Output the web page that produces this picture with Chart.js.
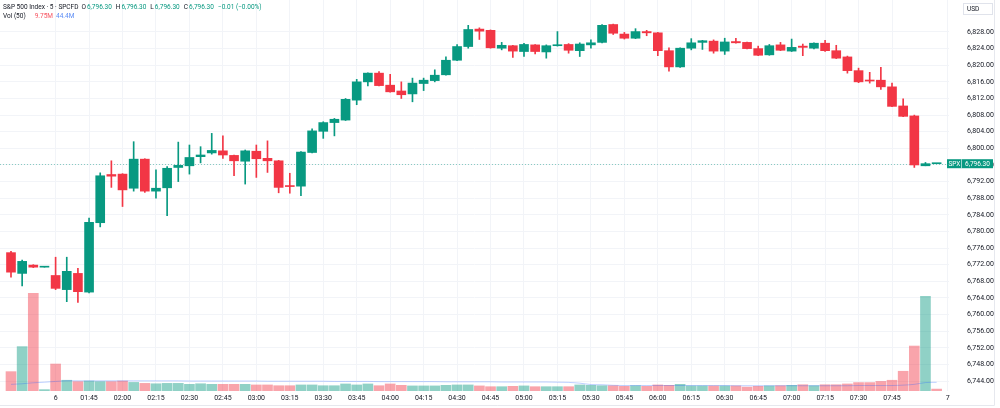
<!DOCTYPE html>
<html>
<head>
<meta charset="utf-8">
<script src="https://cdn.jsdelivr.net/npm/chart.js@4.4.1/dist/chart.umd.min.js"></script>
<style>
  html, body { margin: 0; padding: 0; background: #fff; }
  #wrap { width: 1000px; height: 408px; }
</style>
</head>
<body>
<div id="wrap"><canvas id="chart" width="1000" height="408"></canvas></div>
<script>
// 5 minute candles, SPCFD
const opens = [
  6774.9, 6769.9, 6771.9, 6771.4, 6769.4, 6766.0, 6769.9, 6765.4, 6782.1, 6793.7,
  6793.8, 6790.4, 6797.4, 6789.7, 6790.5, 6795.4, 6795.8, 6798.0, 6798.9, 6799.4,
  6798.3, 6796.9, 6799.3, 6797.6, 6797.0, 6791.0, 6790.9, 6799.0, 6804.1, 6806.2,
  6806.8, 6811.6, 6816.0, 6818.1, 6815.2, 6813.8, 6813.1, 6815.6, 6816.3, 6817.7,
  6821.2, 6824.5, 6828.7, 6828.4, 6824.1, 6824.7, 6823.3, 6824.9, 6823.2, 6824.7,
  6825.0, 6823.5, 6824.9, 6825.5, 6829.8, 6827.5, 6826.5, 6828.1, 6827.8, 6823.5,
  6819.6, 6824.1, 6825.5, 6825.8, 6823.4, 6825.7, 6825.5, 6824.0, 6822.5, 6824.9,
  6823.4, 6824.6, 6824.1, 6825.3, 6823.5, 6822.0, 6818.7, 6816.4, 6816.4, 6814.8,
  6810.2, 6807.8, 6795.8, 6796.3
];
const highs = [
  6775.2, 6773.1, 6772.0, 6771.5, 6773.8, 6773.8, 6771.1, 6783.2, 6794.1, 6797.0,
  6793.9, 6801.6, 6797.5, 6794.8, 6795.6, 6801.5, 6800.8, 6800.4, 6803.6, 6803.0,
  6798.4, 6799.6, 6800.8, 6801.8, 6797.1, 6794.0, 6799.2, 6804.7, 6806.4, 6807.2,
  6812.0, 6816.6, 6818.2, 6818.5, 6817.8, 6816.0, 6816.9, 6816.9, 6818.9, 6822.0,
  6825.0, 6829.6, 6829.0, 6828.5, 6825.5, 6824.8, 6825.3, 6825.0, 6824.9, 6828.1,
  6825.2, 6825.4, 6826.1, 6829.8, 6829.9, 6827.9, 6828.8, 6828.4, 6827.9, 6824.2,
  6824.2, 6826.4, 6826.0, 6826.1, 6826.5, 6826.5, 6825.6, 6824.6, 6825.0, 6825.5,
  6826.3, 6825.1, 6825.4, 6826.0, 6824.8, 6822.2, 6819.3, 6818.3, 6819.5, 6815.7,
  6811.9, 6808.0, 6796.6, 6796.3
];
const lows = [
  6769.0, 6766.9, 6771.3, 6771.4, 6766.0, 6763.1, 6762.9, 6765.2, 6781.1, 6790.6,
  6786.0, 6789.7, 6789.4, 6788.0, 6783.8, 6792.0, 6793.8, 6796.5, 6798.6, 6797.6,
  6793.4, 6791.4, 6793.0, 6794.2, 6789.3, 6789.2, 6788.6, 6798.9, 6802.4, 6803.0,
  6806.7, 6810.5, 6815.0, 6815.0, 6813.5, 6812.0, 6811.2, 6813.9, 6816.0, 6817.6,
  6821.1, 6824.1, 6826.2, 6824.1, 6823.7, 6821.9, 6822.1, 6822.7, 6821.7, 6824.6,
  6822.9, 6822.1, 6824.1, 6825.4, 6827.4, 6826.3, 6826.4, 6827.1, 6822.3, 6818.6,
  6819.5, 6823.7, 6823.8, 6822.9, 6822.6, 6825.3, 6823.9, 6822.3, 6822.4, 6823.5,
  6823.3, 6822.3, 6823.9, 6823.3, 6821.6, 6818.1, 6815.8, 6815.7, 6814.2, 6810.0,
  6807.6, 6795.4, 6795.8, 6796.3
];
const closes = [
  6770.2, 6772.8, 6771.4, 6771.5, 6766.3, 6770.4, 6765.5, 6782.2, 6793.4, 6793.3,
  6790.0, 6797.4, 6789.7, 6790.4, 6795.2, 6795.9, 6797.8, 6798.4, 6799.5, 6798.4,
  6797.0, 6799.4, 6797.5, 6797.0, 6790.6, 6790.8, 6799.1, 6804.2, 6806.2, 6807.0,
  6811.8, 6816.0, 6818.1, 6815.1, 6813.6, 6812.9, 6815.7, 6816.4, 6817.6, 6821.2,
  6824.5, 6828.6, 6828.2, 6824.2, 6824.8, 6823.4, 6825.0, 6823.3, 6824.7, 6824.9,
  6823.6, 6825.1, 6825.4, 6829.6, 6827.7, 6826.5, 6828.1, 6827.8, 6823.5, 6819.6,
  6824.1, 6825.4, 6825.9, 6823.4, 6825.6, 6825.4, 6824.0, 6822.4, 6824.7, 6823.6,
  6824.3, 6824.3, 6825.3, 6823.5, 6821.7, 6818.7, 6816.0, 6816.2, 6814.8, 6810.1,
  6807.7, 6796.0, 6796.31, 6796.3
];
// volume in millions, and the 50 bar volume average
const volumes = [
  99, 227, 500, 7, 138, 55, 48, 51, 48, 48,
  51, 44, 39, 37, 39, 39, 34, 37, 34, 34,
  34, 34, 31, 31, 27, 27, 31, 31, 27, 27,
  36, 31, 36, 27, 36, 29, 26, 26, 26, 29,
  31, 31, 26, 22, 22, 24, 26, 22, 22, 22,
  22, 31, 29, 27, 27, 24, 27, 24, 31, 29,
  34, 26, 26, 26, 26, 26, 20, 24, 26, 27,
  29, 32, 27, 32, 32, 36, 43, 43, 49, 55,
  101, 230, 484, 9.75
];
const volMA = [
  34, 37, 42, 45, 49, 52, 52, 52, 52, 52,
  52, 52, 52, 52, 52, 52, 51, 51, 51, 51,
  51, 51, 51, 50, 50, 50, 50, 50, 50, 49,
  49, 49, 49, 48, 48, 48, 48, 48, 48, 47,
  47, 47, 47, 47, 46, 46, 46, 46, 46, 45,
  44, 40, 33, 32, 29, 28, 28, 28, 28, 28,
  28, 28, 28, 28, 28, 27, 27, 27, 27, 27,
  27, 27, 27, 27, 27, 27, 28, 28, 28, 28,
  30, 34, 43, 44.4
];

const timeTickIdx = [4, 7, 10, 13, 16, 19, 22, 25, 28, 31, 34, 37, 40, 43, 46, 49, 52, 55, 58, 61, 64, 67, 70, 73, 76, 79, 84];
const timeTickText = ['6', '01:45', '02:00', '02:15', '02:30', '02:45', '03:00', '03:15', '03:30', '03:45', '04:00', '04:15', '04:30', '04:45', '05:00', '05:15', '05:30', '05:45', '06:00', '06:15', '06:30', '06:45', '07:00', '07:15', '07:30', '07:45', '7'];
const priceTicks = [6744, 6748, 6752, 6756, 6760, 6764, 6768, 6772, 6776, 6780, 6784, 6788, 6792, 6796, 6800, 6804, 6808, 6812, 6816, 6820, 6824, 6828];

const UP = '#089981';
const DOWN = '#f23645';
const UP_VOL = 'rgba(8, 153, 129, 0.45)';
const DOWN_VOL = 'rgba(242, 54, 69, 0.45)';
const GRID = '#f2f4f8';
const TEXT = '#131722';
const FONT = 'Roboto, "Liberation Sans", sans-serif';

const idx = opens.map((o, i) => i);
const candleColors = idx.map(i => closes[i] >= opens[i] ? UP : DOWN);
const volColors = idx.map(i => {
  if (closes[i] !== opens[i]) return closes[i] > opens[i] ? UP_VOL : DOWN_VOL;
  const prev = i > 0 ? closes[i - 1] : closes[i];
  return closes[i] >= prev ? UP_VOL : DOWN_VOL;
});
const lastClose = closes[closes.length - 1];

const fmtPrice = v => v.toLocaleString('en-US', {minimumFractionDigits: 2, maximumFractionDigits: 2});

// draws a row of legend pieces, each [text, colour, gap before]
function drawRow(ctx, parts, x, y) {
  parts.forEach(([t, c, gap]) => {
    x += gap;
    ctx.fillStyle = c;
    ctx.fillText(t, x, y);
    x += ctx.measureText(t).width;
  });
}

const overlay = {
  id: 'overlay',
  beforeDatasetsDraw(chart) {
    const {ctx, chartArea} = chart;
    const y = Math.round(chart.scales.y.getPixelForValue(lastClose)) + 0.5;
    ctx.save();
    ctx.strokeStyle = 'rgba(8, 153, 129, 0.45)';
    ctx.lineWidth = 1;
    ctx.setLineDash([1, 2]);
    ctx.beginPath();
    ctx.moveTo(chartArea.left, y);
    ctx.lineTo(chartArea.right, y);
    ctx.stroke();
    ctx.restore();
  },
  afterDraw(chart) {
    const {ctx} = chart;
    ctx.save();
    // frame
    ctx.strokeStyle = '#e6e8ee';
    ctx.lineWidth = 1;
    ctx.beginPath();
    ctx.moveTo(0, 405.5);
    ctx.lineTo(994.5, 405.5);
    ctx.lineTo(994.5, 0);
    ctx.stroke();

    // last price label
    const y = chart.scales.y.getPixelForValue(lastClose);
    ctx.fillStyle = UP;
    ctx.fillRect(947, y - 4.5, 46, 9);
    ctx.fillStyle = 'rgba(255,255,255,0.6)';
    ctx.fillRect(961, y - 4.5, 1, 9);
    ctx.fillStyle = '#fff';
    ctx.font = '6.5px ' + FONT;
    ctx.textBaseline = 'middle';
    ctx.textAlign = 'left';
    ctx.fillText('SPX', 948.5, y + 0.5);
    ctx.fillText(fmtPrice(lastClose), 965, y + 0.5);

    // currency box
    ctx.strokeStyle = '#e0e3eb';
    ctx.strokeRect(963.5, 3.5, 29, 11);
    ctx.fillStyle = TEXT;
    ctx.fillText('USD', 967, 9.5);

    // legend
    const teal = UP;
    ctx.font = '6.5px ' + FONT;
    drawRow(ctx, [
      ['S&P 500 Index · 5 · SPCFD', TEXT, 0],
      ['O', TEXT, 3], ['6,796.30', teal, 1],
      ['H', TEXT, 4], ['6,796.30', teal, 1],
      ['L', TEXT, 4], ['6,796.30', teal, 1],
      ['C', TEXT, 4], ['6,796.30', teal, 1],
      ['\u22120.01 (\u22120.00%)', teal, 4]
    ], 3, 7);
    drawRow(ctx, [
      ['Vol (50)', TEXT, 0],
      ['9.75M', '#f7525f', 9],
      ['44.4M', '#5b8cf5', 3]
    ], 3, 16);
    ctx.restore();
  }
};

new Chart(document.getElementById('chart'), {
  type: 'bar',
  data: {
    datasets: [
      {
        label: 'Volume',
        data: idx.map(i => ({x: i, y: volumes[i]})),
        backgroundColor: volColors,
        barThickness: 10,
        grouped: false,
        yAxisID: 'yVol',
        order: 4
      },
      {
        type: 'line',
        label: 'Volume MA',
        data: idx.map(i => ({x: i, y: volMA[i]})),
        borderColor: 'rgba(41, 98, 255, 0.3)',
        borderWidth: 1,
        pointRadius: 0,
        tension: 0.3,
        yAxisID: 'yVol',
        order: 3
      },
      {
        label: 'Wick',
        data: idx.map(i => ({x: i, y: [lows[i], highs[i]]})),
        backgroundColor: candleColors,
        barThickness: 1,
        grouped: false,
        yAxisID: 'y',
        order: 2
      },
      {
        label: 'Body',
        data: idx.map(i => ({x: i, y: [opens[i], closes[i]]})),
        backgroundColor: candleColors,
        barThickness: 9,
        minBarLength: 1,
        grouped: false,
        yAxisID: 'y',
        order: 1
      }
    ]
  },
  options: {
    responsive: false,
    animation: false,
    devicePixelRatio: 1,
    events: [],
    layout: {padding: 0},
    plugins: {legend: {display: false}, tooltip: {enabled: false}},
    scales: {
      x: {
        type: 'linear',
        min: -0.986,
        max: 84.11,
        offset: false,
        grid: {color: GRID, drawTicks: false, offset: false},
        border: {display: false},
        ticks: {
          autoSkip: false,
          maxRotation: 0,
          padding: 3,
          color: TEXT,
          font: {family: FONT, size: 7},
          callback: v => timeTickText[timeTickIdx.indexOf(v)]
        },
        afterBuildTicks: s => { s.ticks = timeTickIdx.map(v => ({value: v})); },
        afterFit: s => { s.height = 17; s.paddingLeft = 0; s.paddingRight = 0; }
      },
      y: {
        position: 'right',
        min: 6741.6,
        max: 6835.7,
        grid: {color: GRID, drawTicks: false},
        border: {display: false},
        ticks: {
          autoSkip: false,
          padding: 18,
          color: TEXT,
          font: {family: FONT, size: 7},
          callback: v => fmtPrice(v)
        },
        afterBuildTicks: s => { s.ticks = priceTicks.map(v => ({value: v})); },
        afterFit: s => { s.width = 51; s.paddingTop = 0; s.paddingBottom = 0; }
      },
      yVol: {
        display: false,
        min: 0,
        max: 2000
      }
    }
  },
  plugins: [overlay]
});
</script>
</body>
</html>
